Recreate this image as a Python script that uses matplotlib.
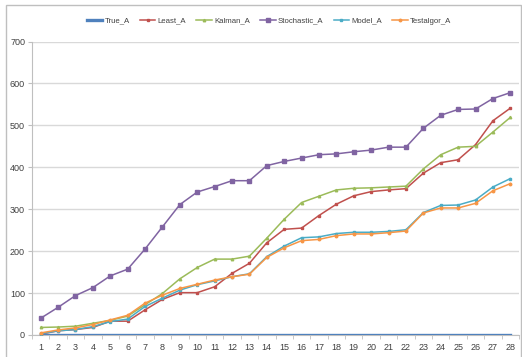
import matplotlib
matplotlib.use("Agg")
import matplotlib.pyplot as plt
from matplotlib.patches import Rectangle

x = list(range(1, 29))
true_a = [0] * 28
least_a = [2, 10, 13, 18, 33, 33, 60, 85, 101, 101, 115, 147, 171, 220, 252, 255, 285, 312, 332, 342, 346, 349, 386, 411, 418, 454, 511, 541]
kalman_a = [18, 19, 21, 28, 35, 45, 72, 99, 134, 161, 181, 181, 188, 231, 276, 316, 331, 346, 350, 351, 353, 355, 396, 430, 448, 450, 484, 519]
stochastic_a = [40, 66, 94, 113, 141, 157, 205, 258, 311, 341, 354, 368, 368, 404, 414, 422, 430, 432, 437, 441, 448, 448, 493, 524, 538, 539, 564, 578]
model_a = [3, 10, 13, 20, 32, 38, 68, 88, 107, 120, 129, 139, 146, 187, 212, 232, 234, 242, 245, 245, 247, 251, 292, 309, 310, 322, 353, 373]
testalgor_a = [5, 12, 17, 25, 36, 47, 76, 95, 111, 121, 131, 139, 145, 185, 208, 225, 228, 237, 241, 241, 244, 248, 291, 303, 303, 314, 344, 361]
x_labels = [str(i) for i in x]
y_ticks = [0, 100, 200, 300, 400, 500, 600, 700]

plt.rcParams['font.family'] = ['Liberation Sans', 'DejaVu Sans']

fig = plt.figure(figsize=(5.22, 3.57), dpi=100)
fig.patches.append(Rectangle((6 / 522, -0.05), (515 / 522), 1 - 4.5 / 357 + 0.05,
                             transform=fig.transFigure, fill=False,
                             edgecolor='#BFBFBF', linewidth=1.0))
ax = fig.add_axes([32 / 522, 1 - 335 / 357, (519 - 32) / 522, (335 - 41.5) / 357])

ms = 1.8
lw = 1.1
ax.plot(x, true_a, color='#4F81BD', lw=2.4, label='True_A', zorder=3)
ax.plot(x, least_a, color='#C0504D', lw=lw, marker='s', ms=ms, label='Least_A', zorder=4)
ax.plot(x, kalman_a, color='#9BBB59', lw=lw, marker='^', ms=ms, label='Kalman_A', zorder=4)
ax.plot(x, stochastic_a, color='#8064A2', lw=lw, marker='s', ms=ms + 0.6, label='Stochastic_A', zorder=4)
ax.plot(x, model_a, color='#4BACC6', lw=lw, marker='s', ms=ms, label='Model_A', zorder=4)
ax.plot(x, testalgor_a, color='#F79646', lw=lw, marker='o', ms=ms, label='Testalgor_A', zorder=5)

ax.set_xlim(0.5, 28.5)
ax.set_ylim(0, 700)
ax.set_yticks(y_ticks)
ax.set_xticks(x)
ax.set_xticklabels(x_labels)
ax.set_xticks([i + 0.5 for i in range(0, 29)], minor=True)
ax.tick_params(axis='x', which='major', length=0, labelsize=6.5, colors='#404040', pad=6)
ax.tick_params(axis='x', which='minor', length=3, color='#BFBFBF', direction='out')
ax.tick_params(axis='y', length=3, color='#BFBFBF', labelsize=6.5, labelcolor='#404040', pad=2)
ax.grid(axis='y', color='#D9D9D9', lw=1.0)
ax.set_axisbelow(True)
for s in ['top', 'right']:
    ax.spines[s].set_visible(False)
ax.spines['left'].set_color('#BFBFBF')
ax.spines['bottom'].set_color('#BFBFBF')

fig.legend(loc='center', bbox_to_anchor=(269 / 522, 1 - 21 / 357), ncol=6, frameon=False,
           fontsize=5.6, handlelength=2.0, columnspacing=1.3, handletextpad=0.3,
           labelcolor='#404040')

fig.savefig('out.png', dpi=100)
